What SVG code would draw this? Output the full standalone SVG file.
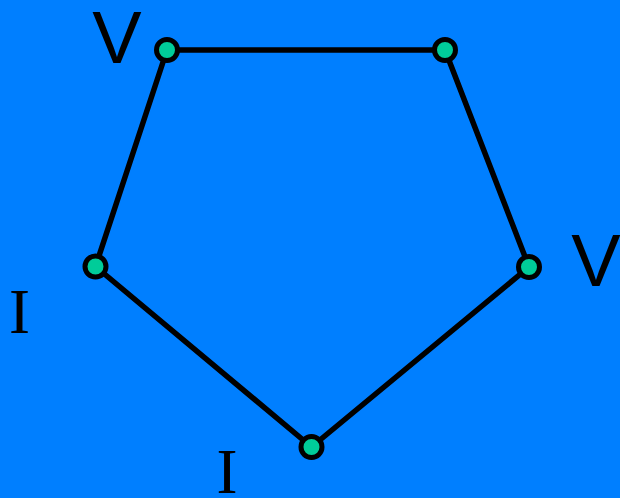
<svg xmlns="http://www.w3.org/2000/svg" width="620" height="498" viewBox="0 0 620 498">
<style>
.e{stroke:#000;stroke-width:5.5;fill:none;stroke-linecap:round}
.n{fill:#00CC99;stroke:#000;stroke-width:5}
.v{font-family:"Liberation Sans",Arial,sans-serif;font-size:74px;fill:#000;text-anchor:middle}
.i{font-family:"Liberation Serif","Times New Roman",serif;font-size:63px;fill:#000;text-anchor:middle}
</style>
<rect width="620" height="498" fill="#007FFF"/>
<g id="edges">
<line class="e" x1="167" y1="50" x2="445" y2="50"/>
<line class="e" x1="445" y1="50" x2="529" y2="267"/>
<line class="e" x1="529" y1="267" x2="311.5" y2="447"/>
<line class="e" x1="311.5" y1="447" x2="95.5" y2="266.5"/>
<line class="e" x1="95.5" y1="266.5" x2="167" y2="50"/>
</g>
<g id="n1"><circle class="n" cx="167" cy="50" r="10.5"/><text class="v" x="117" y="63">V</text></g>
<g id="n2"><circle class="n" cx="445" cy="50" r="10.5"/></g>
<g id="n3"><circle class="n" cx="529" cy="267" r="10.5"/><text class="v" x="596" y="286">V</text></g>
<g id="n4"><circle class="n" cx="311.5" cy="447" r="10.5"/><text class="i" x="227" y="493">I</text></g>
<g id="n5"><circle class="n" cx="95.5" cy="266.5" r="10.5"/><text class="i" x="19.5" y="333">I</text></g>
</svg>
